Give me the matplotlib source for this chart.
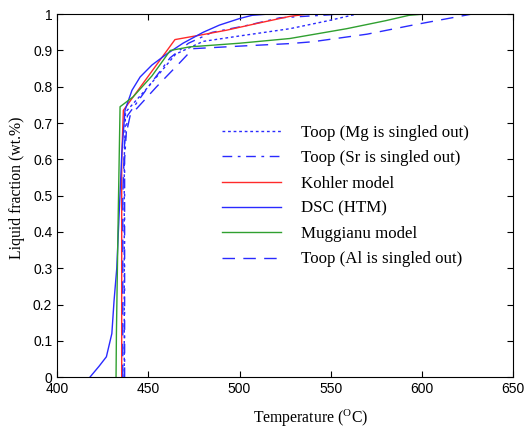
import matplotlib
matplotlib.use('Agg')
import matplotlib.pyplot as plt

# liquid fraction vs temperature curves
dsc_T = [418, 423, 427, 430, 431.2, 432.7, 434, 435.5, 437.2, 441, 445.5, 452, 460, 469, 480, 489, 500, 507, 515]
dsc_f = [0, 0.03, 0.056, 0.12, 0.21, 0.30, 0.45, 0.62, 0.735, 0.79, 0.827, 0.86, 0.89, 0.92, 0.95, 0.97, 0.988, 0.997, 1.0]

kohler_T = [435.4, 435.4, 436.3, 464.6, 478, 493, 510, 527.6, 536.7]
kohler_f = [0, 0.6, 0.735, 0.93, 0.942, 0.956, 0.975, 0.994, 1.0]

mugg_T = [432.3, 432.5, 433.5, 434.5, 441.6, 452, 462, 472.8, 500, 527.6, 558.7, 580, 593, 600.4]
mugg_f = [0, 0.12, 0.45, 0.745, 0.772, 0.83, 0.90, 0.91, 0.92, 0.933, 0.96, 0.982, 0.997, 1.0]

toop_al_T = [436, 436, 437, 440, 454.5, 467, 474.5, 500, 527.6, 540, 570, 595, 627]
toop_al_f = [0, 0.5, 0.65, 0.72, 0.80, 0.865, 0.905, 0.912, 0.919, 0.924, 0.945, 0.97, 1.0]

toop_mg_T = [436.8, 436.8, 437.5, 450, 465, 480, 500, 527.6, 549.5, 564]
toop_mg_f = [0, 0.6, 0.73, 0.80, 0.89, 0.925, 0.94, 0.96, 0.983, 1.0]

toop_sr_T = [437, 437, 438.5, 450, 462, 472, 485, 505, 522, 555]
toop_sr_f = [0, 0.6, 0.72, 0.80, 0.88, 0.92, 0.95, 0.97, 0.99, 1.0]

x_ticks = [400, 450, 500, 550, 600, 650]
y_ticks = [0, 0.1, 0.2, 0.3, 0.4, 0.5, 0.6, 0.7, 0.8, 0.9, 1]
y_ticklabels = ['0', '0.1', '0.2', '0.3', '0.4', '0.5', '0.6', '0.7', '0.8', '0.9', '1']

BLUE = '#2a2aff'
RED = '#ff2a2a'
GREEN = '#30a030'

fig = plt.figure(figsize=(5.29, 4.30), dpi=100)
ax = fig.add_axes([0.108, 0.123, 0.862, 0.844])

ax.plot(toop_mg_T, toop_mg_f, color=BLUE, lw=1, dashes=(2, 2), label='Toop (Mg is singled out)')
ax.plot(toop_sr_T, toop_sr_f, color=BLUE, lw=1, dashes=(7, 4, 2, 4), label='Toop (Sr is singled out)')
ax.plot(kohler_T, kohler_f, color=RED, lw=1, label='Kohler model')
ax.plot(dsc_T, dsc_f, color=BLUE, lw=1, label='DSC (HTM)')
ax.plot(mugg_T, mugg_f, color=GREEN, lw=1, label='Muggianu model')
ax.plot(toop_al_T, toop_al_f, color=BLUE, lw=1, dashes=(9, 6), label='Toop (Al is singled out)')

ax.set_xlim(400, 650)
ax.set_ylim(0, 1)
ax.set_xticks(x_ticks)
ax.set_yticks(y_ticks)
ax.set_yticklabels(y_ticklabels)
ax.tick_params(direction='in', top=True, right=True, labelsize=10, length=4)
for lab in ax.get_xticklabels() + ax.get_yticklabels():
    lab.set_family('Liberation Sans')

ax.set_xlabel('Temperature ($\\mathregular{^{O}}$C)', family='Liberation Serif', fontsize=11.3)
ax.xaxis.set_label_coords(0.557, -0.114)
ax.xaxis.label.set_va('center')
ax.set_ylabel('Liquid fraction (wt.%)', family='Liberation Serif', fontsize=11.3)
ax.yaxis.set_label_coords(-0.088, 0.523)
ax.yaxis.label.set_va('center')

ax.legend(loc='upper left', bbox_to_anchor=(0.362, 0.695), frameon=False,
          prop={'family': 'Liberation Serif', 'size': 12.2},
          handlelength=3.45, handletextpad=1.2, labelspacing=0.55,
          borderpad=0, borderaxespad=0)

fig.savefig('out.png', dpi=100)
